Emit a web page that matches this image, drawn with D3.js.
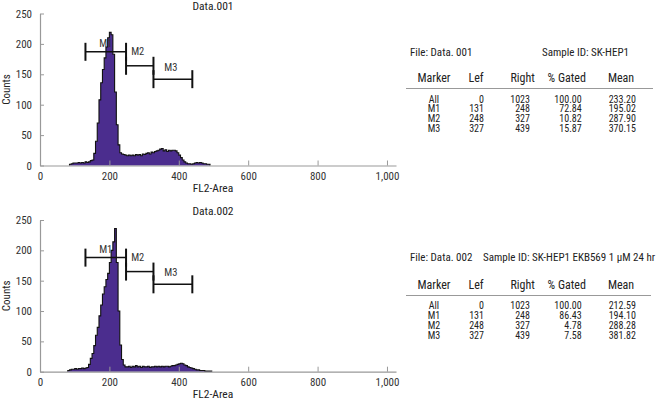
<!DOCTYPE html>
<html><head><meta charset="utf-8">
<script src="https://cdn.jsdelivr.net/npm/d3@7"></script>
<style>
body{margin:0;background:#fff}
text{font-family:"Liberation Sans Narrow","Arial Narrow","Roboto Condensed",sans-serif;fill:#222}
</style>
</head><body><svg id="c" width="661" height="400"></svg>
<script>
// ---- data ----
const binWidth = 5;
const start001 = 85;
const counts001 = [2,3,4,4,4,5,4,5,4,6,5,6,8,9,20,40,70,108,136,158,177,195,210,219,215,183,121,67,34,21,19,18,17,16,17,16,17,16,18,17,18,16,19,18,20,21,19,22,21,23,24,25,27,28,24,26,23,25,24,25,25,24,21,17,13,9,6,4,3,3,2,3,4,5,4,5,4,3,3,2,2];
const start002 = 80;
const counts002 = [2,3,4,4,5,4,5,5,6,5,6,7,12,22,30,43,60,73,92,110,128,140,152,162,180,200,214,236,180,100,44,20,11,8,8,9,7,9,8,10,8,9,7,9,8,8,9,7,8,8,9,8,9,8,9,8,9,9,8,9,10,10,11,12,13,14,13,11,10,8,7,6,5,4,3,3,2,2,2,1,1,1,1];
const xTicks = [0,200,400,600,800,1000];
const yTicks = [0,50,100,150,200,250];
const markerNames = ["M1","M2","M3"];
const markerLeft = [131,248,327];
const markerRight = [248,327,439];
const markerLevel001 = [187,164,142];
const markerLevel002 = [188,165,144];
const tableRows = ["All","M1","M2","M3"];
const tableLef = [0,131,248,327];
const tableRight = [1023,248,327,439];
const gated001 = ["100.00","72.84","10.82","15.87"];
const mean001 = ["233.20","195.02","287.90","370.15"];
const gated002 = ["100.00","86.43","4.78","7.58"];
const mean002 = ["212.59","194.10","288.28","381.82"];
const headers = ["Marker","Lef","Right","% Gated","Mean"];

const svg = d3.select("#c");
const x = d3.scaleLinear().domain([0,1026]).range([40,396]);

const panels = [
  {title:"Data.001", start:start001, counts:counts001, base:165.5, top:13.5, levels:markerLevel001,
   titleY:10, file:"File: Data. 001", sample:"Sample ID: SK-HEP1", sampleX:542, fileY:55.5, headY:82, lineY:88.5, lineX2:653, rowY:102.5, rowStep:9.9,
   gated:gated001, mean:mean001, labelDy:[-8,-14,-12]},
  {title:"Data.002", start:start002, counts:counts002, base:371.7, top:220, levels:markerLevel002,
   titleY:215, file:"File: Data. 002", sample:"Sample ID: SK-HEP1 EKB569 1 μM 24 hr", sampleX:483, fileY:260.5, headY:288.6, lineY:295.5, lineX2:651, rowY:309.3, rowStep:9.8,
   gated:gated002, mean:mean002, labelDy:[-8,-14,-12]}
];

panels.forEach(p => {
  const y = d3.scaleLinear().domain([0,250]).range([p.base,p.top]);
  const g = svg.append("g");
  const pts = p.counts.map((c,i)=>({v:p.start+i*binWidth, c}));
  pts.push({v:p.start+p.counts.length*binWidth, c:p.counts[p.counts.length-1]});
  const area = d3.area().x(d=>x(d.v)).y0(p.base).y1(d=>y(d.c)).curve(d3.curveStepAfter);
  g.append("path").datum(pts).attr("d",area).attr("fill","#4b2d8e");
  const linePts = [{v:p.start,c:0}].concat(pts).concat([{v:pts[pts.length-1].v,c:0}]);
  g.append("path").datum(linePts)
    .attr("d",d3.line().x(d=>x(d.v)).y(d=>y(d.c)).curve(d3.curveStepAfter))
    .attr("fill","none").attr("stroke","#111").attr("stroke-width",1.1);

  // axes
  const ax = g.append("g").attr("transform",`translate(0,${p.base})`)
    .call(d3.axisBottom(x).tickValues(xTicks).tickFormat(d3.format(",")).tickSizeInner(-5).tickSizeOuter(0).tickPadding(7));
  const ay = g.append("g").attr("transform","translate(40,0)")
    .call(d3.axisLeft(y).tickValues(yTicks).tickSizeInner(-4).tickSizeOuter(0).tickPadding(8));
  [ax,ay].forEach(a=>{
    a.select(".domain").attr("stroke","#999").attr("stroke-width",1.2);
    a.selectAll(".tick line").attr("stroke","#999");
    a.selectAll("text").attr("font-size",11).style("fill","#333").attr("font-family",null);
  });

  g.append("text").attr("x",213).attr("y",p.titleY).attr("text-anchor","middle").attr("font-size",11.5).text(p.title);
  g.append("text").attr("x",213).attr("y",p.base+26.5).attr("text-anchor","middle").attr("font-size",11.5).text("FL2-Area");
  g.append("text").attr("transform",`translate(9.5,${(p.base+p.top)/2}) rotate(-90)`).attr("text-anchor","middle").attr("font-size",11).text("Counts");

  // markers
  markerNames.forEach((m,i)=>{
    const yy = y(p.levels[i]);
    const x1 = x(markerLeft[i]), x2 = x(markerRight[i]);
    g.append("line").attr("x1",x1).attr("x2",x2).attr("y1",yy).attr("y2",yy).attr("stroke","#111").attr("stroke-width",1.5);
    [x1,x2].forEach(xx=>g.append("line").attr("x1",xx).attr("x2",xx).attr("y1",yy-9).attr("y2",yy+9).attr("stroke","#111").attr("stroke-width",2));
    g.append("text").attr("x",(x1+x2)/2 + (i===0?0:-2)).attr("y",yy+p.labelDy[i]+3.5).attr("text-anchor","middle")
      .attr("font-size",10.5).style("fill","#333").text(m);
  });

  // table
  const t = svg.append("g");
  t.append("text").attr("x",410).attr("y",p.fileY).attr("font-size",11).text(p.file);
  t.append("text").attr("x",p.sampleX).attr("y",p.fileY).attr("font-size",11).text(p.sample);
  const headX = [434,476,522.7,566.7,621];
  headers.forEach((h,i)=>t.append("text").attr("x",headX[i]).attr("y",p.headY).attr("text-anchor","middle").attr("font-size",12).text(h));
  t.append("line").attr("x1",406).attr("x2",p.lineX2).attr("y1",p.lineY).attr("y2",p.lineY).attr("stroke","#999").attr("stroke-width",1.2);
  tableRows.forEach((r,i)=>{
    const yy = p.rowY + i*p.rowStep;
    const cells = [[r,434,"middle"],[tableLef[i],484,"end"],[tableRight[i],530,"end"],[p.gated[i],581.7,"end"],[p.mean[i],636,"end"]];
    cells.forEach(c=>t.append("text").attr("x",c[1]).attr("y",yy).attr("text-anchor",c[2]).attr("font-size",10).text(c[0]));
  });
});
</script></body></html>
